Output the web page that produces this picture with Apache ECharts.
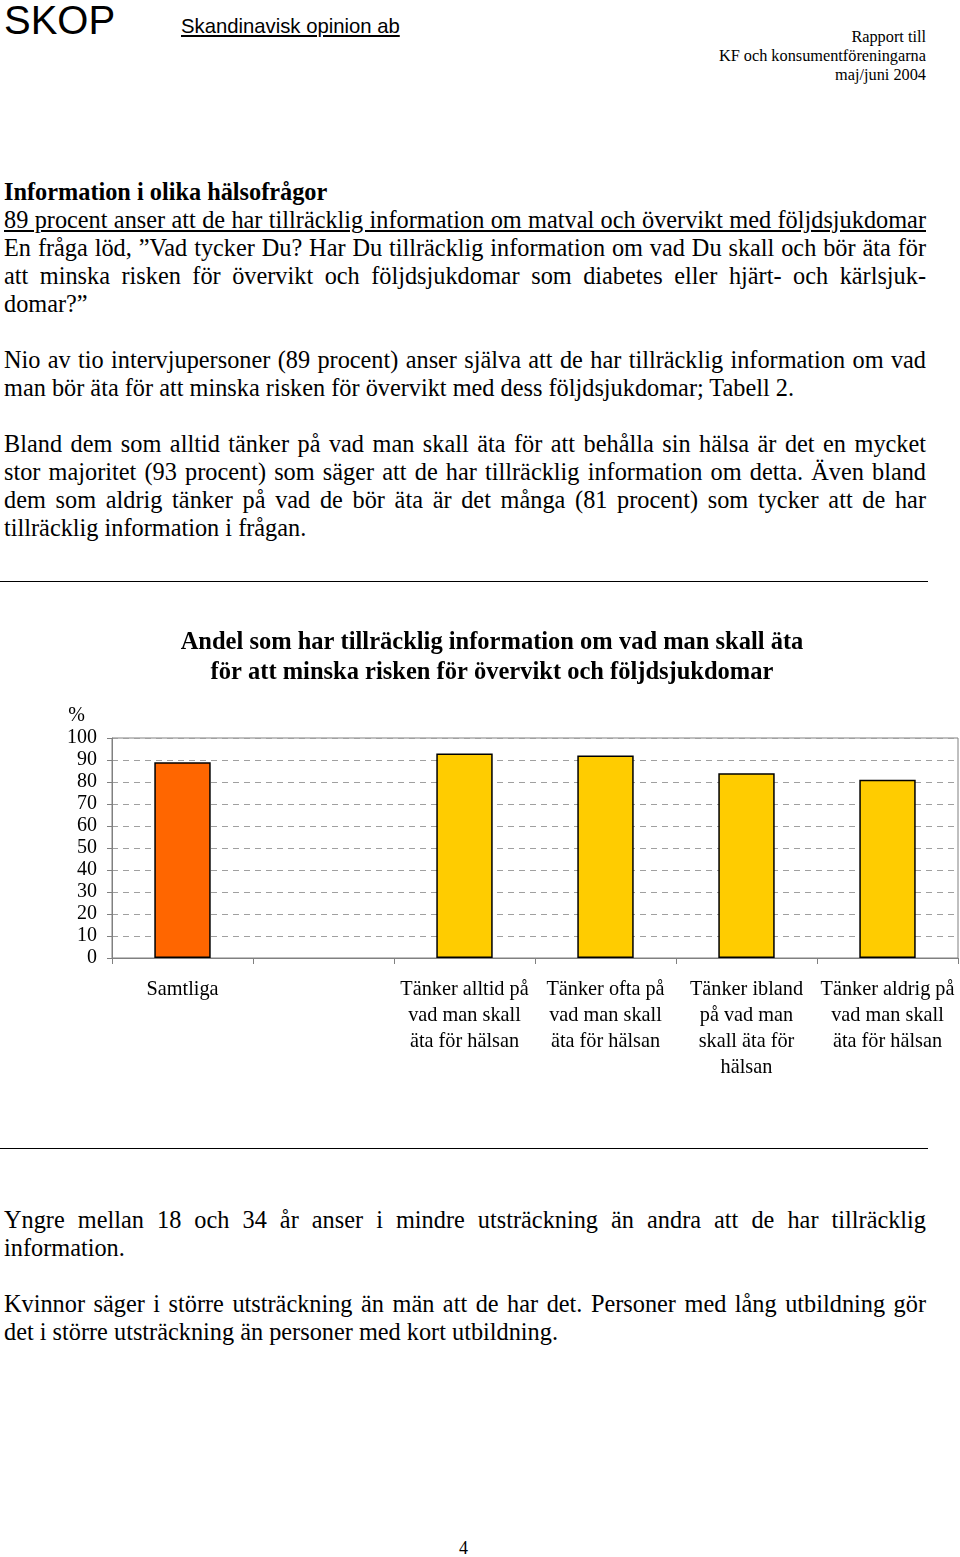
<!DOCTYPE html>
<html>
<head>
<meta charset="utf-8">
<script src="https://cdn.jsdelivr.net/npm/echarts@6/dist/echarts.min.js"></script>
<style>
  html, body { margin:0; padding:0; background:#fff; }
  body { width:960px; height:1557px; position:relative; overflow:hidden; font-family:"Liberation Serif","Times New Roman",serif; color:#000; }
  .abs { position:absolute; }
  .para { position:absolute; left:4px; width:922px; font-size:24.3px; line-height:28px; }
  .j { text-align:justify; text-align-last:justify; white-space:nowrap; height:28px; }
  .l { text-align:left; white-space:nowrap; height:28px; }
  .blank { height:28px; }
  .rule { position:absolute; left:0; width:928px; height:0; border-top:1px solid #000; }
</style>
</head>
<body>
<div class="abs" style="left:4px;top:-4px;font-family:'Liberation Sans',Arial,sans-serif;font-size:40px;line-height:48px;">SKOP</div>
<div class="abs" style="left:181px;top:14px;font-family:'Liberation Sans',Arial,sans-serif;font-size:20.3px;line-height:24px;text-decoration:underline;">Skandinavisk opinion ab</div>
<div class="abs" style="right:34px;top:27px;font-size:16.3px;line-height:19px;text-align:right;">Rapport till<br>KF och konsumentföreningarna<br>maj/juni 2004</div>

<div class="para" style="top:178px;">
  <div class="l" style="font-weight:bold;">Information i olika hälsofrågor</div>
  <div class="j" style="text-decoration:underline;">89 procent anser att de har tillräcklig information om matval och övervikt med följdsjukdomar</div>
  <div class="j">En fråga löd, ”Vad tycker Du? Har Du tillräcklig information om vad Du skall och bör äta för</div>
  <div class="j">att minska risken för övervikt och följdsjukdomar som diabetes eller hjärt- och kärlsjuk-</div>
  <div class="l">domar?”</div>
  <div class="blank"></div>
  <div class="j">Nio av tio intervjupersoner (89 procent) anser själva att de har tillräcklig information om vad</div>
  <div class="l">man bör äta för att minska risken för övervikt med dess följdsjukdomar; Tabell 2.</div>
  <div class="blank"></div>
  <div class="j">Bland dem som alltid tänker på vad man skall äta för att behålla sin hälsa är det en mycket</div>
  <div class="j">stor majoritet (93 procent) som säger att de har tillräcklig information om detta. Även bland</div>
  <div class="j">dem som aldrig tänker på vad de bör äta är det många (81 procent) som tycker att de har</div>
  <div class="l">tillräcklig information i frågan.</div>
</div>

<div class="rule" style="top:581px;"></div>
<div id="chart" class="abs" style="left:0;top:610px;width:960px;height:480px;"></div>
<div class="rule" style="top:1148px;"></div>

<div class="para" style="top:1206px;">
  <div class="j">Yngre mellan 18 och 34 år anser i mindre utsträckning än andra att de har tillräcklig</div>
  <div class="l">information.</div>
  <div class="blank"></div>
  <div class="j">Kvinnor säger i större utsträckning än män att de har det. Personer med lång utbildning gör</div>
  <div class="l">det i större utsträckning än personer med kort utbildning.</div>
</div>

<div class="abs" style="left:459px;top:1537px;font-size:18px;line-height:22px;">4</div>

<script>
// ---- data ----
var categories = [
  'Samtliga',
  '',
  'Tänker alltid på\nvad man skall\näta för hälsan',
  'Tänker ofta på\nvad man skall\näta för hälsan',
  'Tänker ibland\npå vad man\nskall äta för\nhälsan',
  'Tänker aldrig på\nvad man skall\näta för hälsan'
];
var values = [89, null, 93, 92, 84, 81];
var barColors = ['#FF6600', '#FFCC00', '#FFCC00', '#FFCC00', '#FFCC00', '#FFCC00'];
var chartTitle = 'Andel som har tillräcklig information om vad man skall äta\nför att minska risken för övervikt och följdsjukdomar';
var yMin = 0, yMax = 100, yStep = 10;

var serif = "'Liberation Serif','Times New Roman',serif";
var chart = echarts.init(document.getElementById('chart'), null, {renderer:'canvas'});
chart.setOption({
  animation: false,
  title: {
    text: chartTitle,
    left: 487, textAlign: 'center', top: 13,
    textStyle: { fontFamily: serif, fontWeight: 'bold', fontSize: 24.5, lineHeight: 30, color: '#000' }
  },
  grid: { left: 112, right: 2, top: 128, bottom: 132, show: true, borderColor: '#808080', borderWidth: 1, backgroundColor: 'transparent' },
  xAxis: {
    type: 'category',
    data: categories,
    boundaryGap: true,
    axisLine: { lineStyle: { color: '#808080', width: 1 } },
    axisTick: { show: true, alignWithLabel: false, length: 6, lineStyle: { color: '#808080' } },
    axisLabel: { interval: 0, margin: 19, color: '#000', fontFamily: serif, fontSize: 20.3, lineHeight: 26 }
  },
  yAxis: {
    type: 'value',
    min: yMin, max: yMax, interval: yStep,
    name: '%',
    nameLocation: 'end',
    nameGap: 12,
    nameTextStyle: { fontFamily: serif, fontSize: 20, color: '#000', align: 'right', padding: [0, 27, 0, 0] },
    axisLine: { show: true, lineStyle: { color: '#808080', width: 1 } },
    axisTick: { show: true, length: 5, inside: false, lineStyle: { color: '#808080' } },
    axisLabel: { margin: 15, color: '#000', fontFamily: serif, fontSize: 20 },
    splitLine: { show: true, lineStyle: { color: '#a0a0a0', type: [6, 5], width: 1 } }
  },
  series: [{
    type: 'bar',
    barWidth: '40%',
    data: values.map(function (v, i) {
      return { value: v, itemStyle: { color: barColors[i], borderColor: '#000', borderWidth: 1.5 } };
    })
  }]
});
</script>
</body>
</html>
